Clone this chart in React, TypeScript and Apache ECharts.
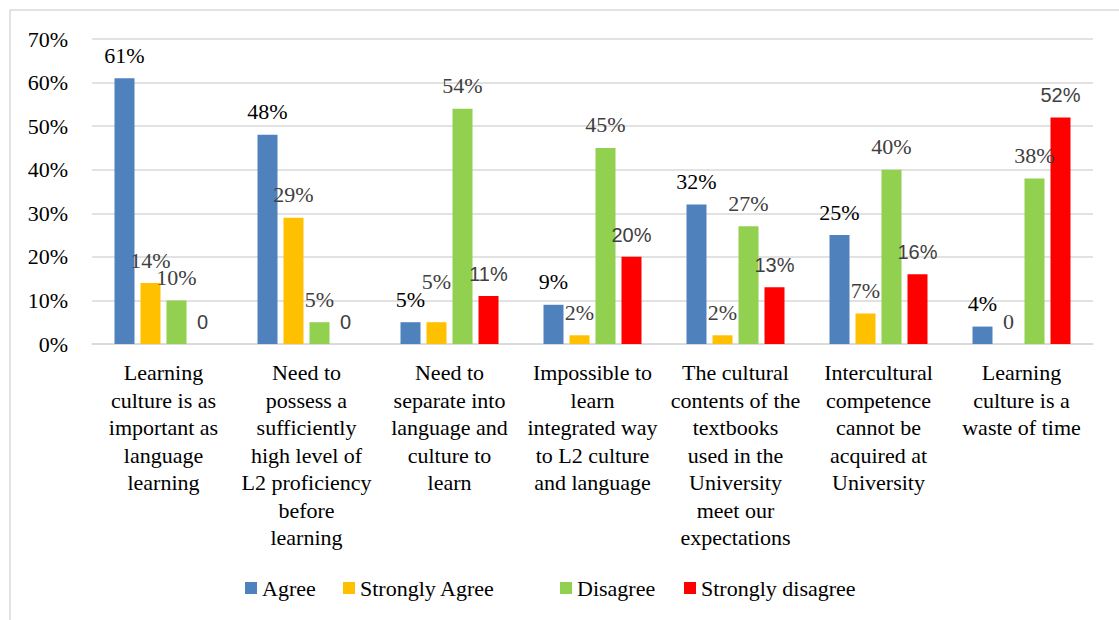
import React, { useEffect, useRef } from "react";
import * as echarts from "echarts";

const categories = [
  "Learning\nculture is as\nimportant as\nlanguage\nlearning",
  "Need to\npossess a\nsufficiently\nhigh level of\nL2 proficiency\nbefore\nlearning",
  "Need to\nseparate into\nlanguage and\nculture to\nlearn",
  "Impossible to\nlearn\nintegrated way\nto L2 culture\nand language",
  "The cultural\ncontents of the\ntextbooks\nused in the\nUniversity\nmeet our\nexpectations",
  "Intercultural\ncompetence\ncannot be\nacquired at\nUniversity",
  "Learning\nculture is a\nwaste of time",
];

const seriesNames = ["Agree", "Strongly Agree", "Disagree", "Strongly disagree"];
const agree = [61, 48, 5, 9, 32, 25, 4];
const stronglyAgree = [14, 29, 5, 2, 2, 7, 0];
const disagree = [10, 5, 54, 45, 27, 40, 38];
const stronglyDisagree = [0, 0, 11, 20, 13, 16, 52];

const yTicks = [0, 10, 20, 30, 40, 50, 60, 70];

const SERIF = "Liberation Serif";
const SANS = "Liberation Sans";

export default function App() {
  const ref = useRef<HTMLDivElement>(null);

  useEffect(() => {
    if (!ref.current) return;
    const chart = echarts.init(ref.current, undefined, { renderer: "svg" });

    const fmt = (p: any) => (p.value === 0 ? "0" : `${p.value}%`);
    const mkLabel = (color: string, family: string) => ({
      show: true,
      position: "top" as const,
      distance: 12,
      formatter: fmt,
      color,
      fontFamily: family,
      fontSize: 22,
    });

    // Excel nudged one overlapping label upward
    const saLift = [0, 0, 18, 0, 0, 0, 0];
    // Excel legend slot positions
    const legendLefts = [245, 343, 560, 684];

    const option: any = {
      animation: false,
      backgroundColor: "#fff",
      textStyle: { fontFamily: SERIF },
      graphic: [
        {
          type: "rect",
          shape: { x: 10, y: 10, width: 1200, height: 800 },
          style: { fill: "none", stroke: "#D9D9D9", lineWidth: 1.5 },
          silent: true,
        },
      ],
      grid: { left: 92, right: 26, top: 39, bottom: 276, containLabel: false },
      legend: seriesNames.map((name, i) => ({
        left: legendLefts[i],
        top: 577,
        padding: 0,
        itemWidth: 12,
        itemHeight: 12,
        icon: "rect",
        textStyle: { fontFamily: SERIF, fontSize: 22, color: "#000" },
        data: [name],
      })),
      xAxis: {
        type: "category",
        data: categories,
        axisTick: { show: false },
        axisLine: { show: true, lineStyle: { color: "#D9D9D9", width: 1.5 } },
        axisLabel: {
          interval: 0,
          margin: 15,
          fontFamily: SERIF,
          fontSize: 22,
          lineHeight: 27.5,
          color: "#000",
        },
      },
      yAxis: {
        type: "value",
        min: yTicks[0],
        max: yTicks[yTicks.length - 1],
        interval: 10,
        axisLine: { show: false },
        axisTick: { show: false },
        splitLine: { lineStyle: { color: "#D9D9D9", width: 1.5 } },
        axisLabel: {
          formatter: "{value}%",
          fontFamily: SERIF,
          fontSize: 22,
          color: "#000",
          margin: 24,
        },
      },
      series: [
        {
          name: seriesNames[0],
          type: "bar",
          data: agree,
          barWidth: 20,
          barGap: "30%",
          itemStyle: { color: "#4F81BD" },
          label: mkLabel("#000", SERIF),
        },
        {
          name: seriesNames[1],
          type: "bar",
          data: stronglyAgree.map((v, i) =>
            saLift[i] ? { value: v, label: { offset: [0, -saLift[i]] } } : v
          ),
          barWidth: 20,
          barGap: "30%",
          itemStyle: { color: "#FFC000" },
          label: mkLabel("#404040", SERIF),
        },
        {
          name: seriesNames[2],
          type: "bar",
          data: disagree,
          barWidth: 20,
          barGap: "30%",
          itemStyle: { color: "#92D050" },
          label: mkLabel("#404040", SERIF),
        },
        {
          name: seriesNames[3],
          type: "bar",
          data: stronglyDisagree,
          barWidth: 20,
          barGap: "30%",
          itemStyle: { color: "#FF0000" },
          label: { ...mkLabel("#404040", SANS), fontSize: 20 },
        },
      ],
    };

    chart.setOption(option);
    return () => chart.dispose();
  }, []);

  return (
    <div
      ref={ref}
      style={{ position: "fixed", left: 0, top: 0, width: 1119, height: 620, background: "#fff" }}
    />
  );
}
